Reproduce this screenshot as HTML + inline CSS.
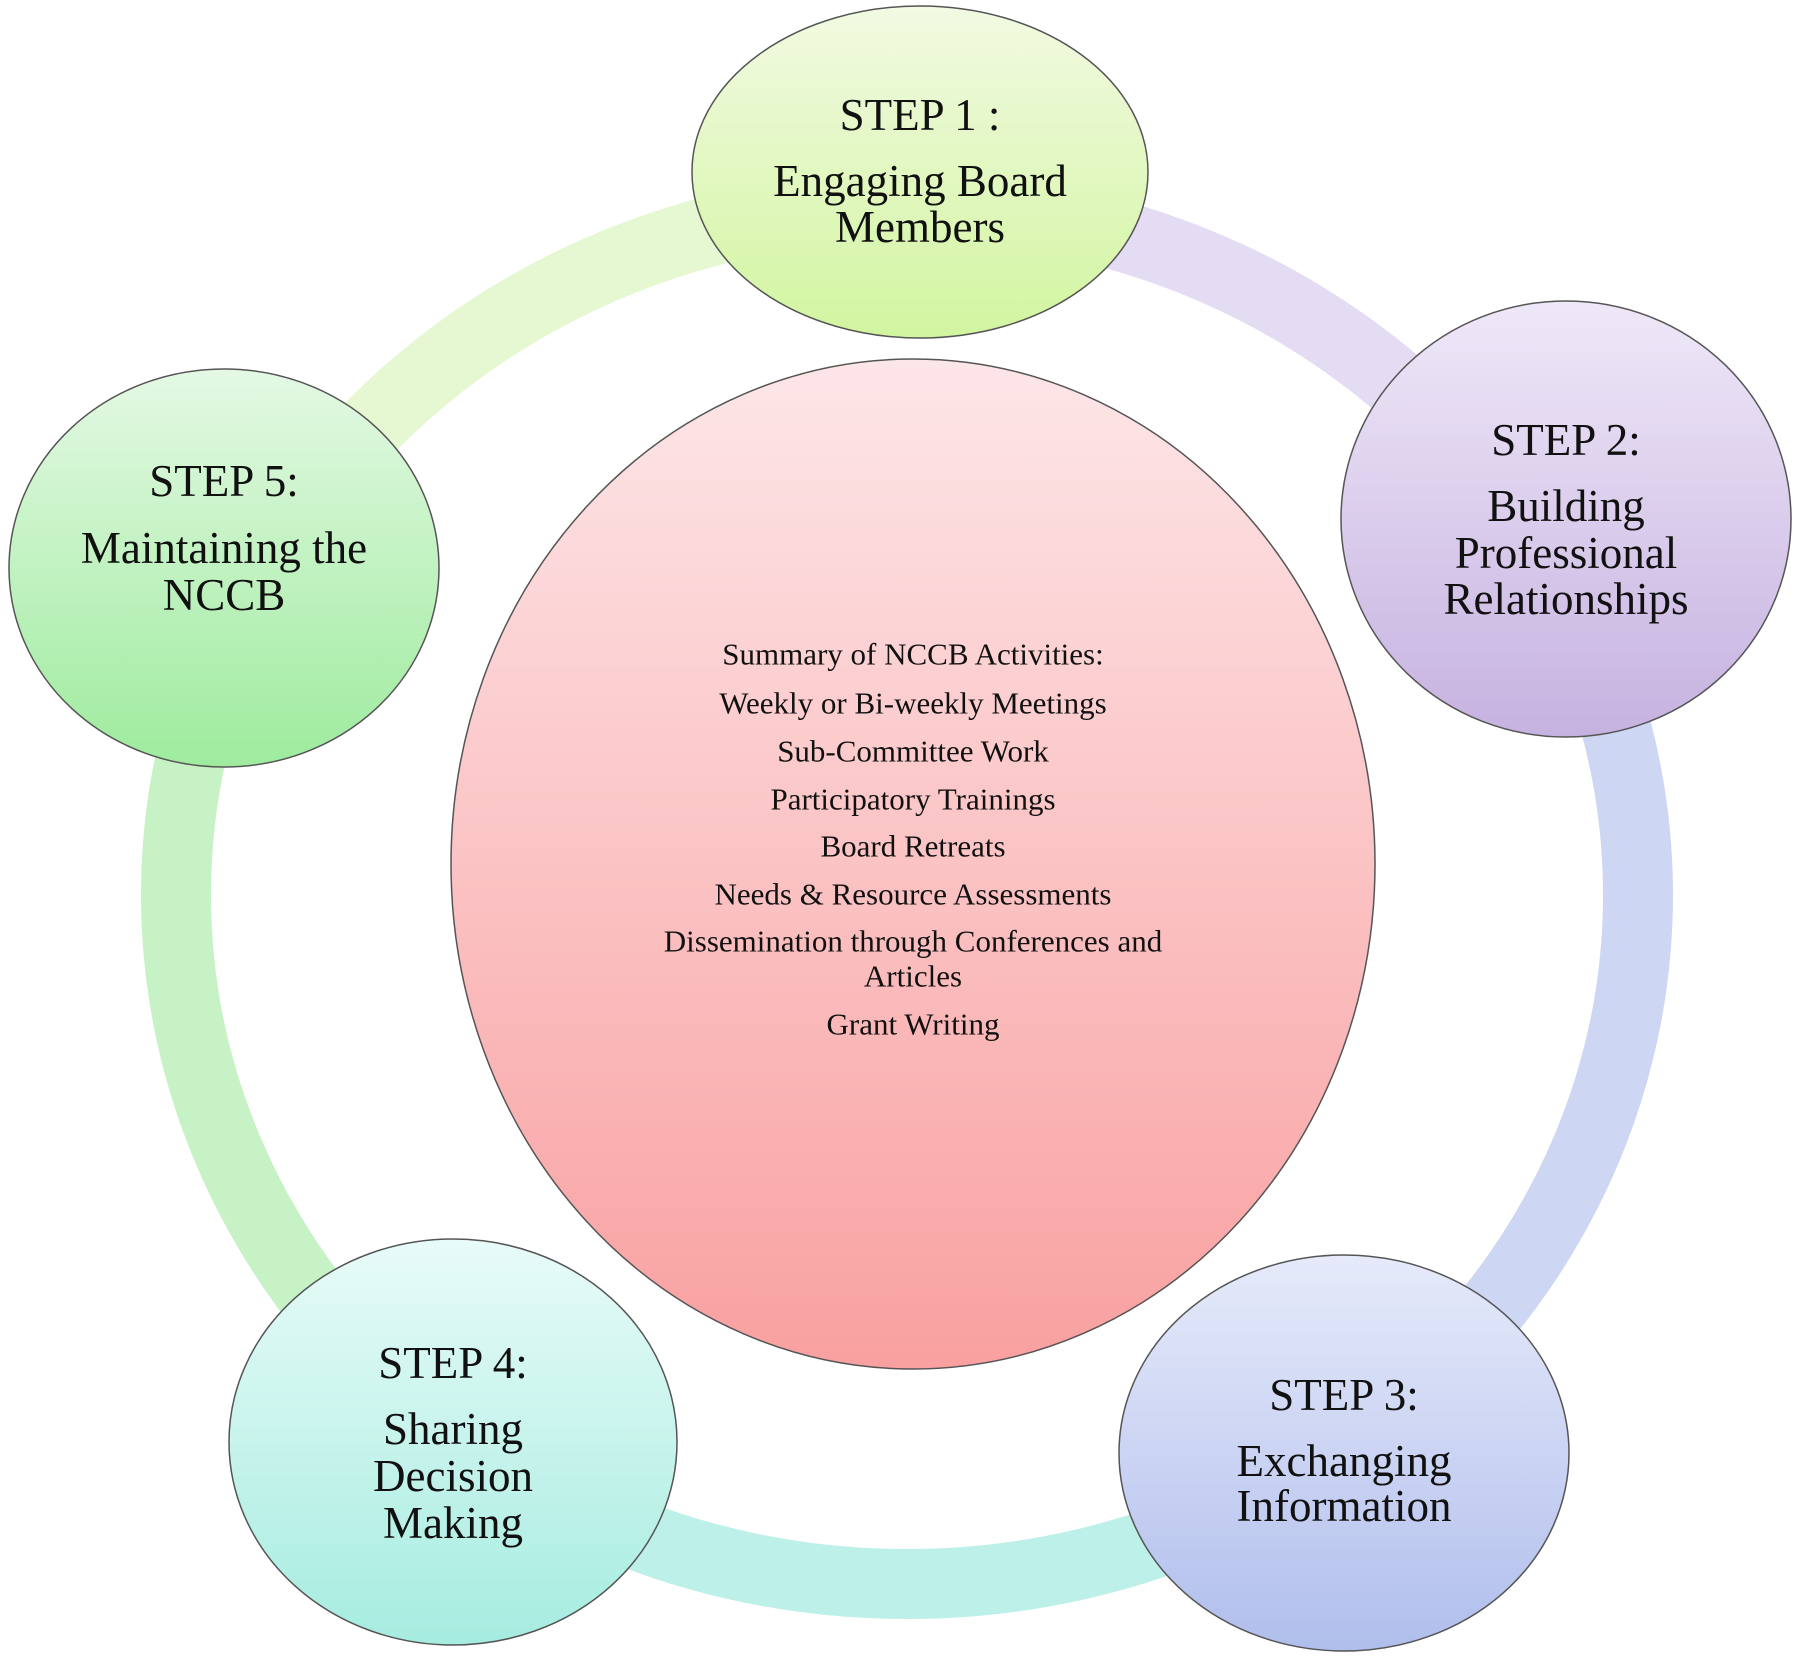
<!DOCTYPE html>
<html><head><meta charset="utf-8"><style>html,body{margin:0;padding:0;background:#fff}svg{display:block}</style></head>
<body>
<svg width="1800" height="1657" viewBox="0 0 1800 1657" xmlns="http://www.w3.org/2000/svg" font-family="'Liberation Serif', serif">
<defs>
<clipPath id="w12"><polygon points="907,895 946,-1274 2884,-233"/></clipPath>
<clipPath id="w23"><polygon points="907,895 2884,-233 2218,2569"/></clipPath>
<clipPath id="w34"><polygon points="907,895 2218,2569 -455,2536"/></clipPath>
<clipPath id="w45"><polygon points="907,895 -455,2536 -1142,-86"/></clipPath>
<clipPath id="w51"><polygon points="907,895 -1142,-86 946,-1274"/></clipPath>
<linearGradient id="g1" x1="0" y1="0" x2="0" y2="1"><stop offset="0" stop-color="#f2fae2"/><stop offset="1" stop-color="#d2f5a0"/></linearGradient>
<linearGradient id="g2" x1="0" y1="0" x2="0" y2="1"><stop offset="0" stop-color="#efe8f8"/><stop offset="1" stop-color="#c6b2e0"/></linearGradient>
<linearGradient id="g3" x1="0" y1="0" x2="0" y2="1"><stop offset="0" stop-color="#e6eafa"/><stop offset="1" stop-color="#b0beec"/></linearGradient>
<linearGradient id="g4" x1="0" y1="0" x2="0" y2="1"><stop offset="0" stop-color="#e8fbf8"/><stop offset="1" stop-color="#a6ece0"/></linearGradient>
<linearGradient id="g5" x1="0" y1="0" x2="0" y2="1"><stop offset="0" stop-color="#e4f9e4"/><stop offset="1" stop-color="#9eeb9e"/></linearGradient>
<linearGradient id="gc" x1="0" y1="0" x2="0" y2="1"><stop offset="0" stop-color="#fde6e8"/><stop offset="1" stop-color="#f9a0a0"/></linearGradient>
</defs>
<g fill="none" stroke-width="70">
<ellipse cx="907" cy="895" rx="731" ry="689" stroke="#e4dcf3" clip-path="url(#w12)"/>
<ellipse cx="907" cy="895" rx="731" ry="689" stroke="#cdd6f2" clip-path="url(#w23)"/>
<ellipse cx="907" cy="895" rx="731" ry="689" stroke="#bdf0e8" clip-path="url(#w34)"/>
<ellipse cx="907" cy="895" rx="731" ry="689" stroke="#c6f2c6" clip-path="url(#w45)"/>
<ellipse cx="907" cy="895" rx="731" ry="689" stroke="#e6f8d2" clip-path="url(#w51)"/>
</g>
<g stroke="#555" stroke-width="1.5">
<ellipse cx="913" cy="864" rx="462" ry="505" fill="url(#gc)"/>
<ellipse cx="920" cy="172" rx="228" ry="166" fill="url(#g1)"/>
<ellipse cx="1566" cy="519" rx="225" ry="218" fill="url(#g2)"/>
<ellipse cx="1344" cy="1453" rx="225" ry="198" fill="url(#g3)"/>
<ellipse cx="453" cy="1442" rx="224" ry="203" fill="url(#g4)"/>
<ellipse cx="224" cy="568" rx="215" ry="199" fill="url(#g5)"/>
</g>
<g font-size="45" fill="#111" text-anchor="middle" dominant-baseline="central">
<text x="920" y="115">STEP 1 :</text>
<text x="920" y="181">Engaging Board</text>
<text x="920" y="227">Members</text>
<text x="1566" y="440">STEP 2:</text>
<text x="1566" y="506">Building</text>
<text x="1566" y="553">Professional</text>
<text x="1566" y="599">Relationships</text>
<text x="1344" y="1395">STEP 3:</text>
<text x="1344" y="1461">Exchanging</text>
<text x="1344" y="1506">Information</text>
<text x="453" y="1363">STEP 4:</text>
<text x="453" y="1429">Sharing</text>
<text x="453" y="1476">Decision</text>
<text x="453" y="1523">Making</text>
<text x="224" y="481">STEP 5:</text>
<text x="224" y="548">Maintaining the</text>
<text x="224" y="595">NCCB</text>
</g>
<g font-size="31" fill="#111" text-anchor="middle" dominant-baseline="central">
<text x="913" y="654">Summary of NCCB Activities:</text>
<text x="913" y="703">Weekly or Bi-weekly Meetings</text>
<text x="913" y="751">Sub-Committee Work</text>
<text x="913" y="799">Participatory  Trainings</text>
<text x="913" y="846">Board Retreats</text>
<text x="913" y="894">Needs &amp; Resource Assessments</text>
<text x="913" y="941">Dissemination through Conferences and</text>
<text x="913" y="976">Articles</text>
<text x="913" y="1024">Grant Writing</text>
</g>
</svg>
</body></html>
